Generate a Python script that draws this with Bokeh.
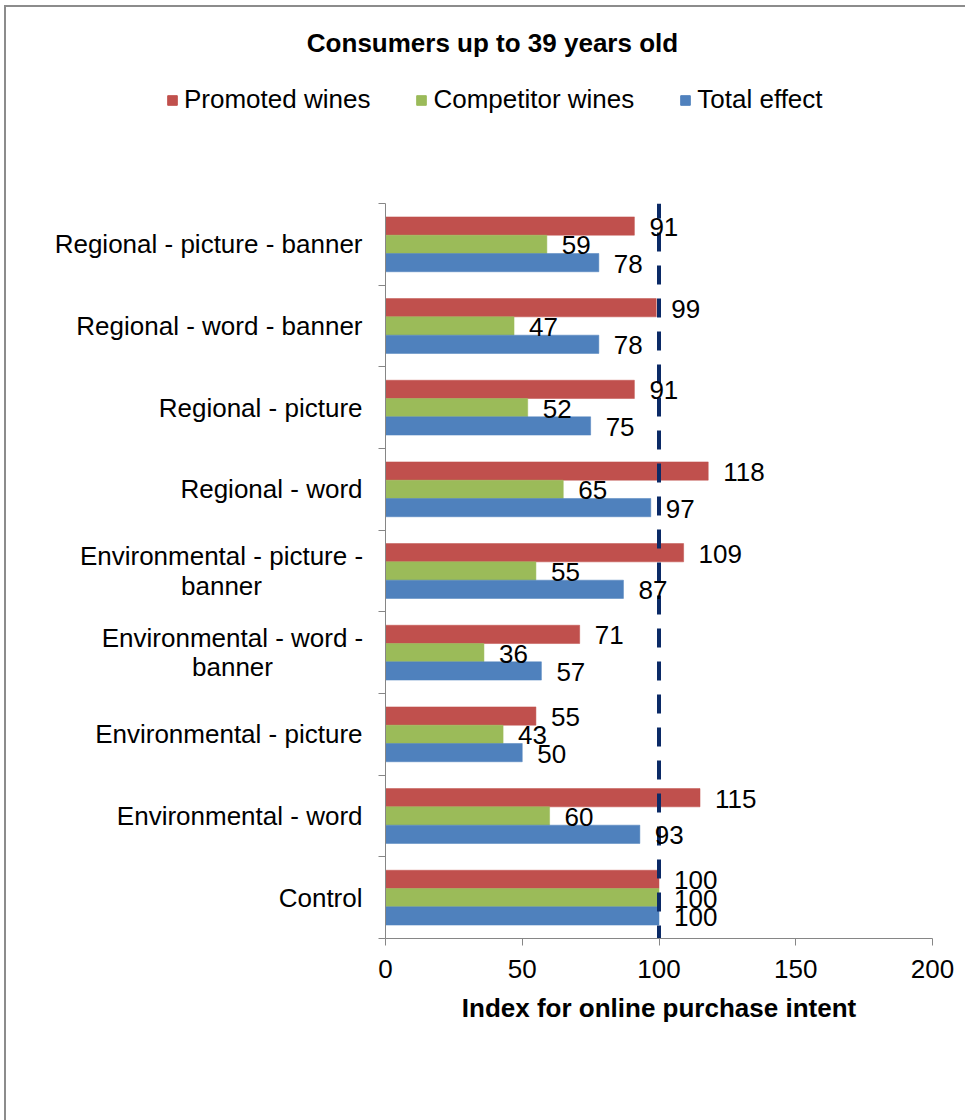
from bokeh.plotting import figure
from bokeh.layouts import column, row
from bokeh.models import (ColumnDataSource, Range1d, FixedTicker, Legend, LegendItem, Label)
from bokeh.core.properties import value
from bokeh.embed import file_html
from bokeh.resources import INLINE

# ---- data (top to bottom) ----
categories = [
    "Regional - picture - banner",
    "Regional - word - banner",
    "Regional - picture",
    "Regional - word",
    "Environmental - picture - banner",
    "Environmental - word - banner",
    "Environmental - picture",
    "Environmental - word",
    "Control",
]
promoted = [91, 99, 91, 118, 109, 71, 55, 115, 100]
competitor = [59, 47, 52, 65, 55, 36, 43, 60, 100]
total = [78, 78, 75, 97, 87, 57, 50, 93, 100]
series_names = ["Promoted wines", "Competitor wines", "Total effect"]
x_ticks = [0, 50, 100, 150, 200]
reference_level = 100
title_text = "Consumers up to 39 years old"
x_title = "Index for online purchase intent"

# ---- styling ----
FONT = "Liberation Sans"
FS = "26px"
COLORS = ["#C0504D", "#9BBB59", "#4F81BD"]
AXIS_GREY = "#868686"
BAR_H = 0.224
OFFSETS = [BAR_H, 0.0, -BAR_H]
# long category names wrap onto two centred lines (centre x in label-strip px)
WRAP = {
    "Environmental - picture - banner": ("Environmental - picture -\nbanner", 215),
    "Environmental - word - banner": ("Environmental - word -\nbanner", 226),
}
W, H = 959, 1113          # inner size (border + offset take the rest)
HEAD_H = 196               # header strip holding title and legend
LAB_W = 360                # strip holding the category names
LAB_RIGHT = 356            # right edge of single-line category names
BODY_H = H - HEAD_H
BOTTOM = 182

n = len(categories)
pos = [n - i - 0.5 for i in range(n)]
y_range = Range1d(0, n)


def bare(fig):
    fig.outline_line_color = None
    fig.xgrid.visible = False
    fig.ygrid.visible = False
    return fig


# ---- header: title and legend ----
head = bare(figure(width=W, height=HEAD_H, output_backend="svg", toolbar_location=None,
                   x_range=Range1d(0, W), y_range=Range1d(0, HEAD_H),
                   x_axis_type=None, y_axis_type=None, min_border=0,
                   frame_align=False))

head.add_layout(Label(x=486, y=161, text=title_text, text_align="center",
                      text_baseline="middle", text_font=FONT, text_font_size=FS,
                      text_font_style="bold", text_color="black"))

legend_renderers = []
for color in COLORS:
    # swatch sources sit outside the header's visible range
    r = head.hbar(y=[-50], right=[1], left=0, height=1,
                  fill_color=color, line_color=color)
    legend_renderers.append(r)
legend = Legend(items=[LegendItem(label=nm, renderers=[r])
                       for nm, r in zip(series_names, legend_renderers)],
                orientation="horizontal", location=(160, 88),
                glyph_width=12, glyph_height=12, label_standoff=6, spacing=45,
                padding=0, margin=0, border_line_color=None,
                background_fill_alpha=0,
                label_text_font=FONT, label_text_font_size=FS,
                label_text_color="black")
head.add_layout(legend, "center")

# ---- category names ----
labs = bare(figure(width=LAB_W, height=BODY_H, output_backend="svg", toolbar_location=None,
                   x_range=Range1d(0, LAB_W), y_range=y_range,
                   x_axis_type=None, y_axis_type=None,
                   min_border_left=0, min_border_right=0,
                   min_border_top=0, min_border_bottom=BOTTOM))
lab_text, lab_x, lab_align = [], [], []
for c in categories:
    if c in WRAP:
        t, cx = WRAP[c]
        lab_text.append(t); lab_x.append(cx); lab_align.append("center")
    else:
        lab_text.append(c); lab_x.append(LAB_RIGHT); lab_align.append("right")
labs.text(x="x", y="y", text="text", text_align="align",
          source=ColumnDataSource(dict(x=lab_x, y=pos, text=lab_text, align=lab_align)),
          text_baseline="middle", text_font=value(FONT), text_font_size=FS,
          text_color="black", text_line_height=0.97)

# ---- main bar chart ----
p = bare(figure(width=W - LAB_W, height=BODY_H, output_backend="svg", toolbar_location=None,
                x_range=Range1d(0, 200), y_range=y_range,
                min_border_left=19, min_border_right=33,
                min_border_top=0, min_border_bottom=BOTTOM))

sources = []
for vals, color, off in zip([promoted, competitor, total], COLORS, OFFSETS):
    src = ColumnDataSource(dict(y=[v + off for v in pos], x=vals,
                                txt=[str(v) for v in vals]))
    p.hbar(y="y", right="x", left=0, height=BAR_H, source=src,
           fill_color=color, line_color=color, line_width=0.5)
    sources.append(src)

# reference line at index 100
p.line(x=[reference_level, reference_level], y=[n, 0], line_color="#0B2A66",
       line_width=4, line_dash="19 14", line_dash_offset=4)

# value labels
for src in sources:
    p.text(x="x", y="y", text="txt", source=src, x_offset=15, y_offset=1,
           text_font=value(FONT), text_font_size=FS, text_color="black",
           text_align="left", text_baseline="middle")

# x axis
xa = p.xaxis[0]
xa.ticker = FixedTicker(ticks=x_ticks)
xa.axis_line_color = AXIS_GREY
xa.major_tick_line_color = AXIS_GREY
xa.major_tick_out = 7
xa.major_tick_in = 0
xa.minor_tick_line_color = None
xa.major_label_text_font = FONT
xa.major_label_text_font_size = FS
xa.major_label_text_color = "black"
xa.major_label_standoff = 14
xa.axis_label = x_title
xa.axis_label_text_font = FONT
xa.axis_label_text_font_size = FS
xa.axis_label_text_font_style = "bold"
xa.axis_label_text_color = "black"
xa.axis_label_standoff = 12

# y axis: tick marks on category boundaries, names drawn in the strip
ya = p.yaxis[0]
ya.ticker = FixedTicker(ticks=list(range(n + 1)))
ya.major_label_overrides = {i: "" for i in range(n + 1)}
ya.major_label_standoff = 0
ya.axis_line_color = AXIS_GREY
ya.major_tick_line_color = AXIS_GREY
ya.major_tick_out = 7
ya.major_tick_in = 0
ya.minor_tick_line_color = None

layout = column(head, row(labs, p), margin=(5, 0, 0, 4),
                styles={"border-left": "2px solid #8c8c8c",
                        "border-top": "2px solid #8c8c8c"})

open("out.html", "w").write(file_html(layout, INLINE))
